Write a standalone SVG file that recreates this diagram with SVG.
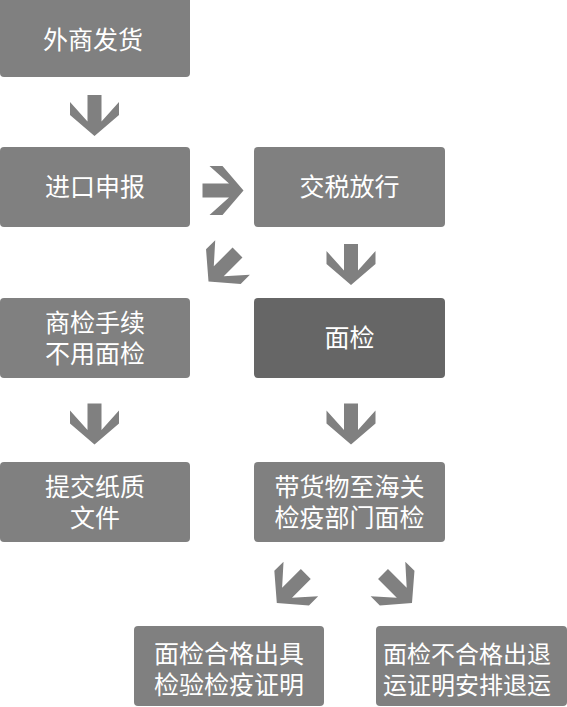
<svg xmlns="http://www.w3.org/2000/svg" width="567" height="707" viewBox="0 0 567 707">
<style>
.box{fill:#808080}
.dark{fill:#666666}
.t{fill:#ffffff;font-family:"Noto Sans CJK SC","Noto Sans",sans-serif;font-size:25px;text-anchor:middle}
.arr{fill:#808080}
</style>
<defs>
<path id="arrow" d="M-7,-20.5 L7,-20.5 L7,6 L24.5,-13.5 L24.5,-0.5 L0,20.5 L-24.5,-0.5 L-24.5,-13.5 L-7,6 Z"/>
</defs>
<rect width="567" height="707" fill="#ffffff"/>
<g id="connectors" class="arr">
<use href="#arrow" transform="translate(94.5,115.5)"/>
<use href="#arrow" transform="translate(223,190.5) rotate(-90)"/>
<use href="#arrow" transform="translate(223,267) rotate(45)"/>
<use href="#arrow" transform="translate(351,264.5)"/>
<use href="#arrow" transform="translate(94.5,424)"/>
<use href="#arrow" transform="translate(351,424)"/>
<use href="#arrow" transform="translate(291.3,588.5) rotate(45)"/>
<use href="#arrow" transform="translate(397.5,588.5) rotate(-45)"/>
</g>
<g id="n1"><rect class="box" x="0" y="-3" width="190" height="80" rx="4"/><text class="t" x="93" y="49">外商发货</text></g>
<g id="n2"><rect class="box" x="0" y="147" width="190" height="80" rx="4"/><text class="t" x="95" y="196">进口申报</text></g>
<g id="n3"><rect class="box" x="254" y="147" width="191" height="80" rx="4"/><text class="t" x="349.5" y="196">交税放行</text></g>
<g id="n4"><rect class="box" x="0" y="298" width="190" height="80" rx="4"/><text class="t" x="95" y="332">商检手续</text><text class="t" x="95" y="363">不用面检</text></g>
<g id="n5"><rect class="dark" x="254" y="298" width="191" height="80" rx="4"/><text class="t" x="349.5" y="347">面检</text></g>
<g id="n6"><rect class="box" x="0" y="462" width="190" height="80" rx="4"/><text class="t" x="95" y="496">提交纸质</text><text class="t" x="95" y="527">文件</text></g>
<g id="n7"><rect class="box" x="254" y="462" width="191" height="80" rx="4"/><text class="t" x="349.5" y="496">带货物至海关</text><text class="t" x="349.5" y="527">检疫部门面检</text></g>
<g id="n8"><rect class="box" x="134" y="626" width="190" height="80" rx="4"/><text class="t" x="229" y="663">面检合格出具</text><text class="t" x="229" y="694">检验检疫证明</text></g>
<g id="n9"><rect class="box" x="376" y="626" width="191" height="80" rx="4"/><text class="t" x="467" y="663" style="font-size:24px">面检不合格出退</text><text class="t" x="467" y="694" style="font-size:24px">运证明安排退运</text></g>
</svg>
